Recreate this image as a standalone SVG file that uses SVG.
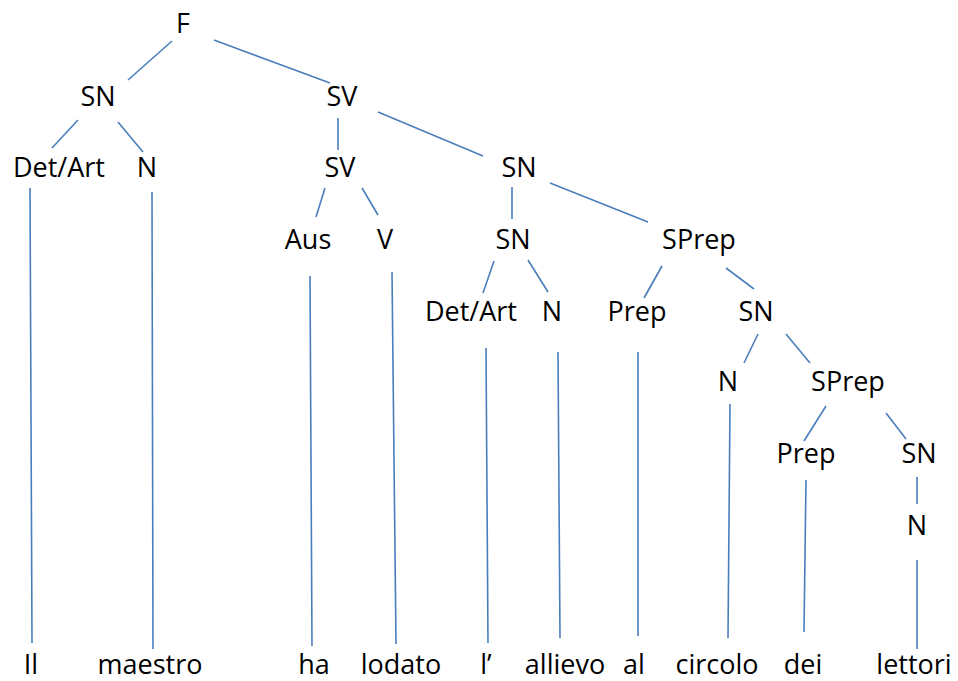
<svg xmlns="http://www.w3.org/2000/svg" width="958" height="681" viewBox="0 0 958 681">
<style>
text{font-family:"Open Sans","Liberation Sans",sans-serif;font-size:27px;fill:#000;text-anchor:middle}
.c line{stroke:#4a7ebb;stroke-width:1.6;fill:none}
</style>
<rect width="958" height="681" fill="#fff"/>
<g class="c" id="connectors">
<line x1="172" y1="41" x2="128" y2="80"/>
<line x1="214" y1="40" x2="330" y2="83"/>
<line x1="78" y1="120" x2="52" y2="148"/>
<line x1="118" y1="122" x2="143" y2="152"/>
<line x1="338" y1="118" x2="338" y2="150"/>
<line x1="378" y1="112" x2="483" y2="156"/>
<line x1="30" y1="188" x2="32" y2="643"/>
<line x1="152" y1="192" x2="153" y2="649"/>
<line x1="325" y1="188" x2="316" y2="217"/>
<line x1="362" y1="188" x2="378" y2="215"/>
<line x1="310" y1="276" x2="312" y2="646"/>
<line x1="392" y1="272" x2="396" y2="644"/>
<line x1="512" y1="187" x2="512" y2="219"/>
<line x1="550" y1="183" x2="648" y2="222"/>
<line x1="494" y1="261" x2="483" y2="293"/>
<line x1="528" y1="260" x2="548" y2="292"/>
<line x1="662" y1="266" x2="644" y2="298"/>
<line x1="726" y1="268" x2="754" y2="289"/>
<line x1="486" y1="348" x2="488" y2="643"/>
<line x1="558" y1="352" x2="560" y2="638"/>
<line x1="638" y1="352" x2="638" y2="636"/>
<line x1="758" y1="334" x2="744" y2="363"/>
<line x1="786" y1="334" x2="810" y2="363"/>
<line x1="730" y1="404" x2="728" y2="638"/>
<line x1="826" y1="406" x2="804" y2="441"/>
<line x1="886" y1="413" x2="906" y2="439"/>
<line x1="806" y1="480" x2="804" y2="632"/>
<line x1="917" y1="477" x2="917" y2="504"/>
<line x1="917" y1="560" x2="917" y2="649"/>
</g>
<g id="n-F"><text x="183" y="33">F</text></g>
<g id="n-SN1"><text x="98" y="106">SN</text></g>
<g id="n-SV1"><text x="342" y="106">SV</text></g>
<g id="n-DetArt1"><text x="59" y="177">Det/Art</text></g>
<g id="n-N1"><text x="147" y="177">N</text></g>
<g id="n-SV2"><text x="340" y="177">SV</text></g>
<g id="n-SN2"><text x="519" y="177">SN</text></g>
<g id="n-Aus"><text x="308" y="249">Aus</text></g>
<g id="n-V"><text x="385" y="249">V</text></g>
<g id="n-SN3"><text x="513" y="249">SN</text></g>
<g id="n-SPrep1"><text x="699" y="249">SPrep</text></g>
<g id="n-DetArt2"><text x="471" y="321">Det/Art</text></g>
<g id="n-N2"><text x="552" y="321">N</text></g>
<g id="n-Prep1"><text x="637" y="321">Prep</text></g>
<g id="n-SN4"><text x="756" y="321">SN</text></g>
<g id="n-N3"><text x="728" y="391">N</text></g>
<g id="n-SPrep2"><text x="848" y="391">SPrep</text></g>
<g id="n-Prep2"><text x="806" y="463">Prep</text></g>
<g id="n-SN5"><text x="919" y="463">SN</text></g>
<g id="n-N4"><text x="917" y="535">N</text></g>
<g id="w-Il"><text x="31" y="674">Il</text></g>
<g id="w-maestro"><text x="150" y="674">maestro</text></g>
<g id="w-ha"><text x="314" y="674">ha</text></g>
<g id="w-lodato"><text x="401" y="674">lodato</text></g>
<g id="w-l"><text x="486" y="674">l’</text></g>
<g id="w-allievo"><text x="565" y="674">allievo</text></g>
<g id="w-al"><text x="634" y="674">al</text></g>
<g id="w-circolo"><text x="717" y="674">circolo</text></g>
<g id="w-dei"><text x="803" y="674">dei</text></g>
<g id="w-lettori"><text x="914" y="674">lettori</text></g>
</svg>
